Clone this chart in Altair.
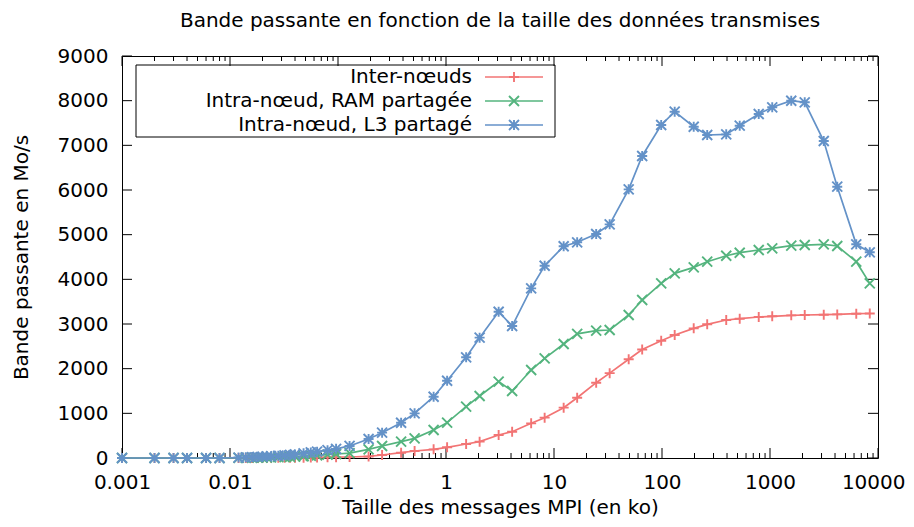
import altair as alt
import pandas as pd

# Message sizes (ko)
sizes_ko = [0.001, 0.002, 0.003, 0.004, 0.006, 0.008, 0.012, 0.014, 0.016, 0.018,
            0.020, 0.022, 0.024, 0.028, 0.032, 0.036, 0.040, 0.048, 0.056, 0.064,
            0.080, 0.096, 0.128, 0.192, 0.256, 0.384, 0.512, 0.768, 1.024, 1.536,
            2.048, 3.072, 4.096, 6.144, 8.192, 12.288, 16.384, 24.576, 32.768, 49.152,
            65.536, 98.304, 131.072, 196.608, 262.144, 393.216, 524.288, 786.432,
            1048.576, 1572.864, 2097.152, 3145.728, 4194.304, 6291.456, 8388.608]

# Bandwidth (Mo/s)
inter_noeuds = [0, 0, 0, 0, 0, 0, 1, 1, 2, 2,
                3, 3, 4, 5, 5, 6, 7, 8, 10, 12,
                15, 18, 22, 35, 67, 119, 157, 194, 239, 313,
                366, 515, 589, 776, 903, 1127, 1350, 1686, 1900, 2210,
                2430, 2626, 2754, 2903, 2993, 3089, 3119, 3157,
                3172, 3194, 3201, 3208, 3215, 3231, 3235]

ram_partagee = [0, 0, 0, 0, 0, 0, 3, 4, 6, 8,
                10, 12, 14, 18, 22, 26, 30, 40, 50, 60,
                75, 90, 110, 194, 269, 366, 440, 627, 791, 1149,
                1388, 1709, 1500, 1970, 2232, 2552, 2780, 2850, 2865, 3201,
                3537, 3910, 4134, 4268, 4395, 4529, 4596, 4656,
                4694, 4753, 4768, 4784, 4746, 4395, 3910]

l3_partage = [0, 0, 0, 0, 0, 0, 10, 15, 20, 25,
              30, 35, 40, 50, 60, 70, 80, 105, 125, 141,
              175, 205, 270, 425, 567, 790, 1000, 1372, 1730, 2254,
              2694, 3275, 2955, 3798, 4305, 4740, 4829, 5014, 5231, 6015,
              6761, 7455, 7753, 7417, 7231, 7246, 7440, 7701,
              7851, 7999, 7963, 7097, 6074, 4784, 4605]

series_names = ["Inter-nœuds", "Intra-nœud, RAM partagée", "Intra-nœud, L3 partagé"]
series_values = [inter_noeuds, ram_partagee, l3_partage]
series_colors = ["#f27474", "#54b47e", "#6492c8"]
series_shapes = [
    "M-1,0L1,0M0,-1L0,1",
    "M-1,-1L1,1M-1,1L1,-1",
    "M-1,0L1,0M0,-1L0,1M-1,-1L1,1M-1,1L1,-1",
]

x_major = [0.001, 0.01, 0.1, 1, 10, 100, 1000, 10000]
x_minor = [k * 10.0 ** e for e in range(-3, 4) for k in range(2, 10)]
y_major = [0, 1000, 2000, 3000, 4000, 5000, 6000, 7000, 8000, 9000]

W, H = 756, 402
FONT = "DejaVu Sans"

xscale = alt.Scale(type="log", domain=[0.001, 10000], nice=False)
yscale = alt.Scale(domain=[0, 9000], nice=False)

X = alt.X("x:Q", scale=xscale,
          axis=alt.Axis(values=x_major, format="~g", title="Taille des messages MPI (en ko)",
                        labelPadding=14, titlePadding=5, labelFlush=False,
                        labelAlign={"expr": "datum.value >= 10000 ? 'right' : 'center'"},
                        labelOffset={"expr": "datum.value >= 10000 ? 27 : 0"}))
Y = alt.Y("y:Q", scale=yscale,
          axis=alt.Axis(values=y_major, format="d", title="Bande passante en Mo/s",
                        labelPadding=14, titlePadding=26))

layers = []

# inward tick marks (gnuplot style, mirrored)
xmaj = pd.DataFrame({"x": x_major})
xmin = pd.DataFrame({"x": x_minor})
ymaj = pd.DataFrame({"y": y_major})
for dfv, ln in [(xmaj, 10), (xmin, 5)]:
    layers.append(alt.Chart(dfv).mark_rule(color="black", strokeWidth=1).encode(
        x=X, y=alt.value(H), y2=alt.value(H - ln)))
    layers.append(alt.Chart(dfv).mark_rule(color="black", strokeWidth=1).encode(
        x=X, y=alt.value(0), y2=alt.value(ln)))
layers.append(alt.Chart(ymaj).mark_rule(color="black", strokeWidth=1).encode(
    y=Y, x=alt.value(0), x2=alt.value(10)))
layers.append(alt.Chart(ymaj).mark_rule(color="black", strokeWidth=1).encode(
    y=Y, x=alt.value(W), x2=alt.value(W - 10)))

# series
for name, vals, color, shape in zip(series_names, series_values, series_colors, series_shapes):
    d = pd.DataFrame({"x": sizes_ko, "y": vals})
    layers.append(alt.Chart(d).mark_line(color=color, strokeWidth=1.7).encode(x=X, y=Y))
    layers.append(alt.Chart(d).mark_point(shape=shape, color=color, size=100, strokeWidth=1.9,
                                          filled=False, opacity=1).encode(x=X, y=Y))

# legend (gnuplot style: label on the left, sample on the right)
box = pd.DataFrame({"a": [0]})
layers.append(alt.Chart(box).mark_rect(fillOpacity=0, stroke="black", strokeWidth=1).encode(
    x=alt.value(14), x2=alt.value(433), y=alt.value(9), y2=alt.value(81)))
row_y = [21, 45, 69]
for i, (name, color, shape) in enumerate(zip(series_names, series_colors, series_shapes)):
    ld = pd.DataFrame({"label": [name]})
    layers.append(alt.Chart(ld).mark_text(align="right", baseline="middle", fontSize=20,
                                          font=FONT, color="black").encode(
        text="label:N", x=alt.value(350), y=alt.value(row_y[i])))
    layers.append(alt.Chart(ld).mark_rule(color=color, strokeWidth=1.7).encode(
        x=alt.value(363), x2=alt.value(421), y=alt.value(row_y[i])))
    layers.append(alt.Chart(ld).mark_point(shape=shape, color=color, size=100, strokeWidth=1.9,
                                           filled=False, opacity=1).encode(
        x=alt.value(392), y=alt.value(row_y[i])))

chart = alt.layer(*layers).properties(
    width=W, height=H,
    title=alt.TitleParams("Bande passante en fonction de la taille des données transmises",
                          fontSize=20, font=FONT, fontWeight="normal", anchor="middle",
                          frame="group", offset=15, color="black"),
    autosize=alt.AutoSizeParams(type="none"),
    padding={"left": 114, "top": 48, "right": 28, "bottom": 61},
).configure_view(stroke="black", strokeWidth=1).configure_axis(
    domain=False, ticks=False, grid=False, labelFont=FONT, labelFontSize=20,
    labelColor="black", titleFont=FONT, titleFontSize=20, titleFontWeight="normal",
    titleColor="black"
)

chart.save("out.html", embed_options={"renderer": "svg", "actions": False})
